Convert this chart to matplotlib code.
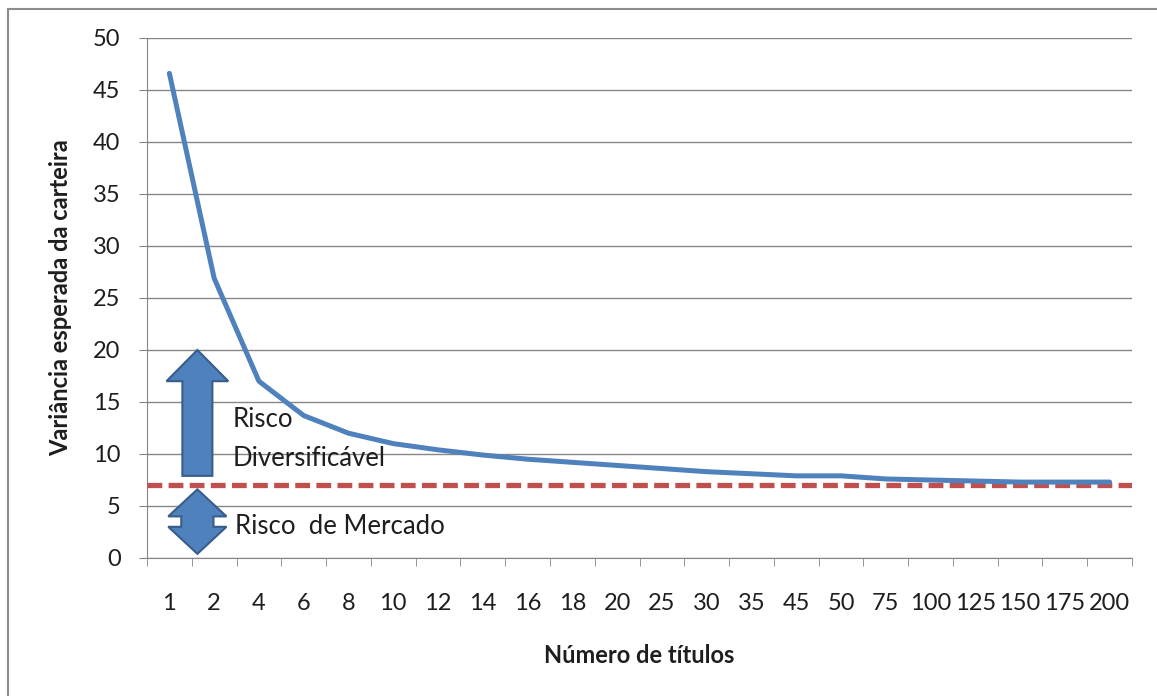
import matplotlib.pyplot as plt
import matplotlib.patches as mpatches
import numpy as np

plt.rcParams['font.family'] = ['Lato', 'DejaVu Sans']

# número de títulos na carteira (eixo categórico) e variância esperada
titulos = ["1", "2", "4", "6", "8", "10", "12", "14", "16", "18", "20",
           "25", "30", "35", "45", "50", "75", "100", "125", "150", "175", "200"]
variancia = [46.6, 26.9, 17.0, 13.7, 12.0, 11.0, 10.4, 9.9, 9.5, 9.2, 8.9,
             8.6, 8.3, 8.1, 7.9, 7.9, 7.6, 7.5, 7.4, 7.3, 7.3, 7.3]
risco_mercado = 7.0
y_ticks = [0, 5, 10, 15, 20, 25, 30, 35, 40, 45, 50]

azul = "#4F81BD"
azul_borda = "#385D8A"
vermelho = "#C0504D"
cinza = "#868686"
texto = "#1E1E1E"

fig = plt.figure(figsize=(11.57, 6.96), dpi=100)
ax = fig.add_axes([147 / 1157, 1 - 558 / 696, (1132 - 147) / 1157, (558 - 38) / 696])

# moldura da área do gráfico
fig.patches.append(mpatches.Rectangle((8 / 1157, -0.05), 1.1, 1 - 9 / 696 + 0.05,
                                      transform=fig.transFigure, fill=False,
                                      edgecolor="#8C8C8C", lw=1.5, clip_on=False))

x = np.arange(len(titulos))
ax.plot(x, variancia, color=azul, lw=3.6, solid_capstyle="round", zorder=4)
ax.axhline(risco_mercado, color=vermelho, lw=3.8, dashes=(2.8, 1.2), zorder=3)

ax.set_xlim(-0.5, len(titulos) - 0.5)
ax.set_ylim(0, 50)
ax.set_yticks(y_ticks)
ax.grid(axis="y", color=cinza, lw=1)
ax.set_axisbelow(True)

ax.set_xticks(x)
ax.set_xticklabels(titulos)
ax.set_xticks(np.arange(-0.5, len(titulos)), minor=True)
ax.tick_params(axis="x", which="major", length=0, pad=25, labelsize=17, colors=texto)
ax.tick_params(axis="x", which="minor", length=6, color=cinza, direction="out")
ax.tick_params(axis="y", length=6, color=cinza, pad=13, labelsize=17, labelcolor=texto)

for lado in ["top", "right"]:
    ax.spines[lado].set_visible(False)
for lado in ["left", "bottom"]:
    ax.spines[lado].set_color(cinza)

ax.set_ylabel("Variância esperada da carteira", fontsize=17, fontweight="bold",
              labelpad=15, color=texto)
ax.set_xlabel("Número de títulos", fontsize=17, fontweight="bold", labelpad=22, color=texto)

# seta do risco diversificável
cx = 0.625
seta = mpatches.FancyArrow(cx, 7.9, 0, 20 - 7.9, width=0.67, head_width=1.38,
                           head_length=3.0, length_includes_head=True,
                           facecolor=azul, edgecolor=azul_borda, lw=1.5, zorder=5)
ax.add_patch(seta)

# seta dupla do risco de mercado
base, topo = 0.4, 6.6
hw, sw, hl = 0.65, 0.36, 2.6
vx = [cx, cx + hw, cx + sw, cx + sw, cx + hw, cx, cx - hw, cx - sw, cx - sw, cx - hw]
vy = [topo, topo - hl, topo - hl, base + hl, base + hl, base, base + hl, base + hl,
      topo - hl, topo - hl]
ax.add_patch(mpatches.Polygon(np.column_stack([vx, vy]), closed=True,
                              facecolor=azul, edgecolor=azul_borda, lw=1.5, zorder=5))

ax.text(1.41, 13.3, "Risco", fontsize=18.5, va="center", ha="left", color=texto)
ax.text(1.41, 9.6, "Diversificável", fontsize=18.5, va="center", ha="left", color=texto)
ax.text(1.47, 3.0, "Risco  de Mercado", fontsize=18.5, va="center", ha="left", color=texto)

fig.savefig("out.png", dpi=100)
